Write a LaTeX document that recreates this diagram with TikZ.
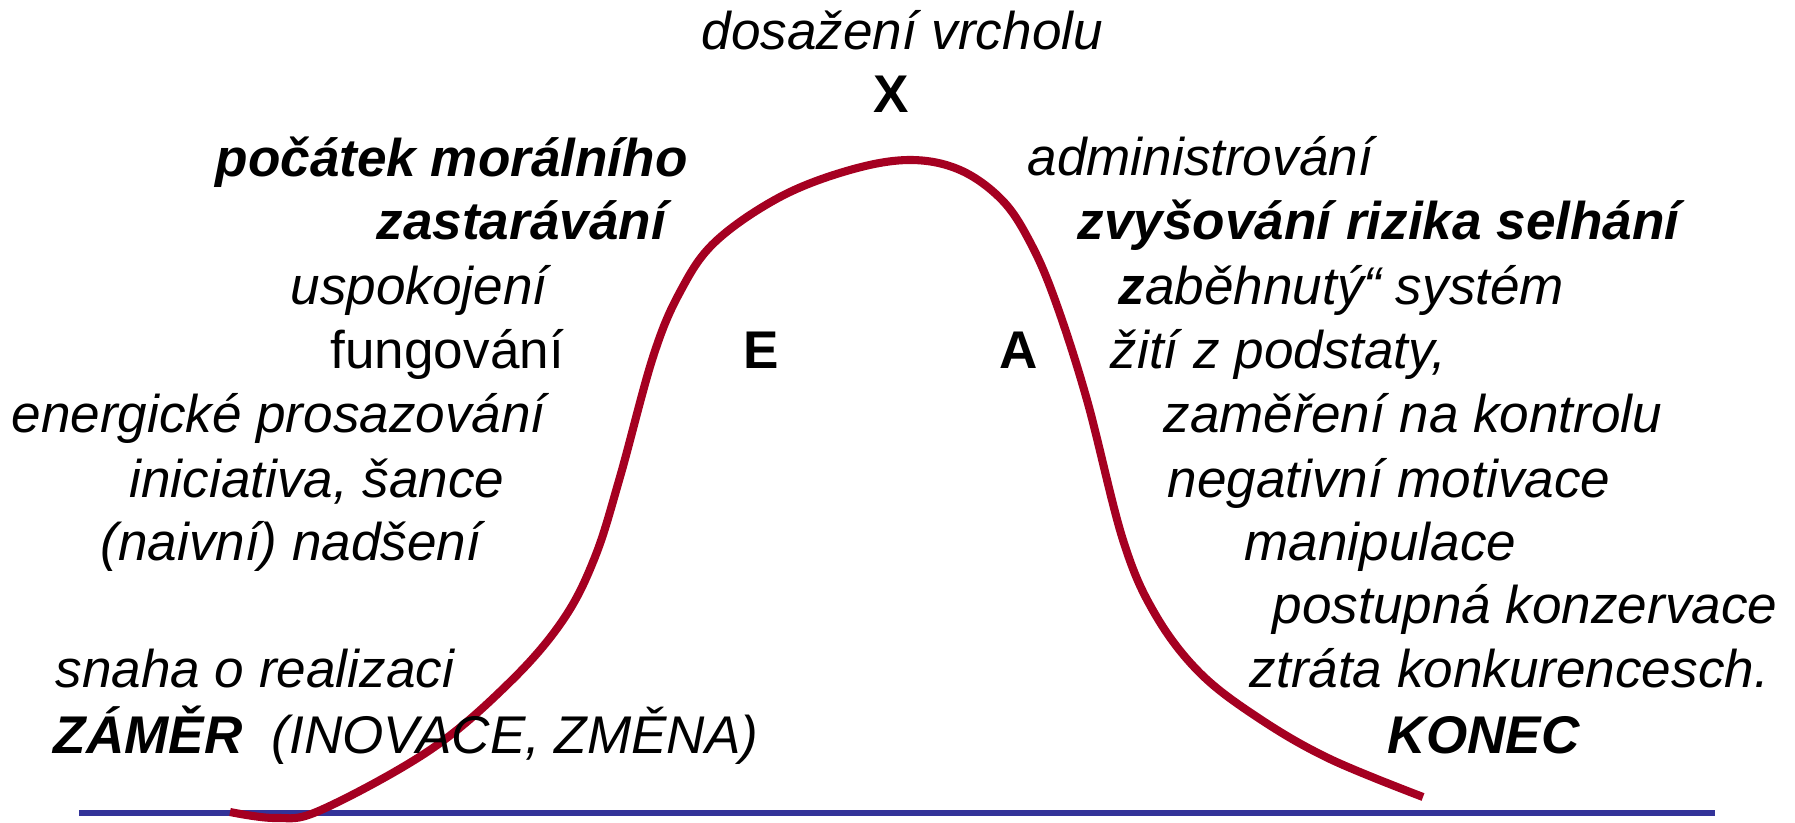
\documentclass[tikz,border=0pt]{standalone}
\usepackage{fontspec}
\setmainfont{Liberation Sans}
\definecolor{curvered}{HTML}{A50021}
\definecolor{baseblue}{HTML}{333399}

\begin{document}
\begin{tikzpicture}[
    txt/.style={font=\fontsize{15.1}{18}\selectfont\itshape, inner sep=0pt, anchor=base west},
    up/.style={font=\fontsize{15.1}{18}\selectfont, inner sep=0pt, anchor=base west},
    hd/.style={font=\fontsize{15.1}{18}\selectfont\bfseries\itshape, inner sep=0pt, anchor=base west},
    phase/.style={font=\fontsize{15.1}{18}\selectfont\bfseries, inner sep=0pt, anchor=base west},
    curve/.style={line width=2.3pt, curvered},
    baseline/.style={line width=1.6pt, baseblue},
]
\useasboundingbox (0,0) rectangle (17.95,8.22);

% --- axis and life curve ---
\coordinate (axisL) at (0.79,0.09);
\coordinate (axisR) at (17.15,0.09);
\draw[baseline] (axisL) -- (axisR);
\draw[curve] plot[smooth, tension=0.6] coordinates {
    (2.30,0.10) (2.76,0.04) (3.21,0.12) (4.30,0.72) (5.10,1.40)
    (5.63,2.02) (5.95,2.65) (6.20,3.45) (6.53,4.65) (6.80,5.30)
    (7.15,5.80) (7.80,6.25) (8.50,6.52) (9.10,6.62) (9.60,6.52)
    (10.02,6.22) (10.30,5.80) (10.55,5.22) (10.87,4.22) (11.23,2.82)
    (11.55,2.08) (12.00,1.49) (12.60,1.03) (13.30,0.63) (14.23,0.25)};

% --- top ---
\node[txt] (peak) at (7.01,7.72) {dosažení vrcholu};
\node[phase, anchor=base] (X) at (8.91,7.09) {X};
\node[phase] (E) at (7.43,4.54) {E};
\node[phase] (A) at (9.99,4.54) {A};

% --- rising side ---
\node[hd] (moral) at (2.15,6.45) {počátek morálního};
\node[hd] (aging) at (3.76,5.82) {zastarávání};
\node[txt] (satis) at (2.90,5.18) {uspokojení};
\node[up] (func) at (3.30,4.54) {fungování};
\node[txt] (energ) at (0.11,3.90) {energické prosazování};
\node[txt] (init) at (1.29,3.25) {iniciativa, šance};
\node[txt] (naive) at (1.00,2.62) {(naivní) nadšení};
\node[txt] (effort) at (0.55,1.35) {snaha o realizaci};
\node[txt] (intent) at (0.53,0.69) {\textbf{ZÁMĚR}\ \ (INOVACE, ZMĚNA)};

% --- falling side ---
\node[txt] (admin) at (10.27,6.46) {administrování};
\node[hd] (risk) at (10.77,5.82) {zvyšování rizika selhání};
\node[txt] (system) at (11.18,5.18) {\textbf{z}aběhnutý“ systém};
\node[txt] (living) at (11.10,4.54) {žití z podstaty,};
\node[txt] (control) at (11.63,3.90) {zaměření na kontrolu};
\node[txt] (negmot) at (11.67,3.25) {negativní motivace};
\node[txt] (manip) at (12.44,2.62) {manipulace};
\node[txt] (conserv) at (12.72,1.99) {postupná konzervace};
\node[txt] (loss) at (12.49,1.35) {ztráta konkurencesch.};
\node[hd] (end) at (13.87,0.69) {KONEC};

\end{tikzpicture}
\end{document}
